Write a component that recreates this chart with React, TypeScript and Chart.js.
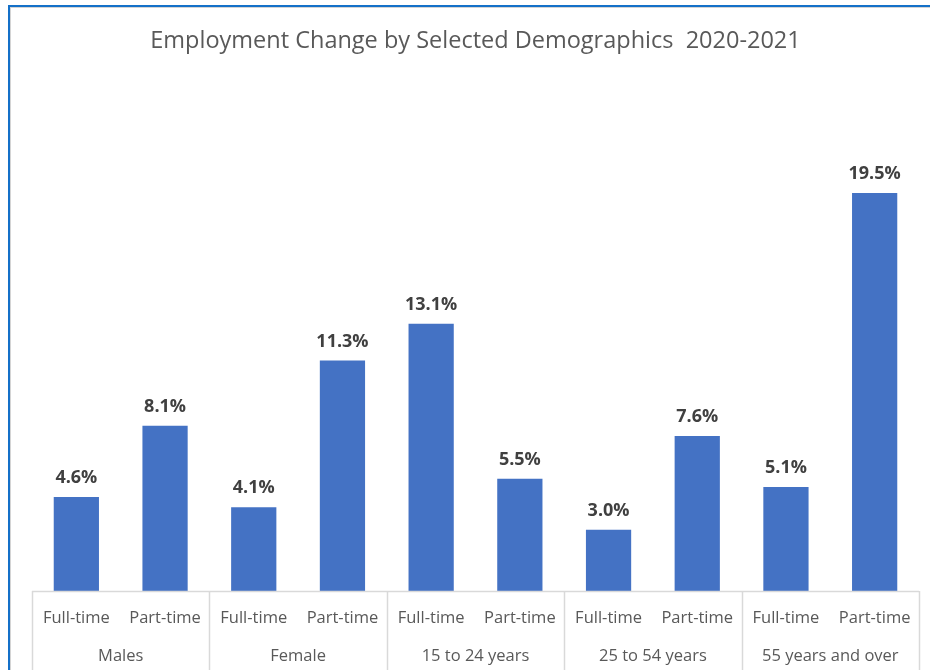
import React, { useEffect, useRef } from "react";
import { Chart, registerables } from "chart.js";

Chart.register(...registerables);

const TITLE = "Employment Change by Selected Demographics  2020-2021";
const groups = ["Males", "Female", "15 to 24 years", "25 to 54 years", "55 years and over"];
const types = ["Full-time", "Part-time", "Full-time", "Part-time", "Full-time", "Part-time", "Full-time", "Part-time", "Full-time", "Part-time"];
const values = [4.6, 8.1, 4.1, 11.3, 13.1, 5.5, 3.0, 7.6, 5.1, 19.5];

const FONT = "'Open Sans', 'Noto Sans', sans-serif";

const framePlugin = {
  id: "frame",
  beforeDraw(chart: any) {
    const ctx = chart.ctx;
    ctx.save();
    ctx.fillStyle = "#ffffff";
    ctx.fillRect(0, 0, chart.width, chart.height);
    ctx.fillStyle = "#d4d4d4";
    ctx.fillRect(10, 7, 1, chart.height - 7);
    ctx.fillRect(10, 7, chart.width - 10, 1);
    ctx.fillStyle = "#1470c8";
    ctx.fillRect(8, 5, 2, chart.height - 5);
    ctx.fillRect(8, 5, chart.width - 8, 2);
    ctx.restore();
  },
};

const separatorPlugin = {
  id: "separators",
  afterDraw(chart: any) {
    const ctx = chart.ctx;
    const xs = chart.scales.x;
    const n = groups.length;
    const step = (xs.right - xs.left) / n;
    ctx.save();
    ctx.strokeStyle = "#d9d9d9";
    ctx.lineWidth = 1.5;
    ctx.beginPath();
    ctx.moveTo(xs.left, chart.chartArea.bottom + 0.5);
    ctx.lineTo(xs.right, chart.chartArea.bottom + 0.5);
    for (let i = 0; i <= n; i++) {
      const x = Math.round(xs.left + i * step) + 0.5;
      ctx.moveTo(x, chart.chartArea.bottom);
      ctx.lineTo(x, chart.height);
    }
    ctx.stroke();
    ctx.restore();
  },
};

const valueLabelPlugin = {
  id: "valueLabels",
  afterDatasetsDraw(chart: any) {
    const ctx = chart.ctx;
    const meta = chart.getDatasetMeta(0);
    ctx.save();
    ctx.font = `bold 18px ${FONT}`;
    ctx.fillStyle = "#404040";
    ctx.textAlign = "center";
    ctx.textBaseline = "middle";
    meta.data.forEach((bar: any, i: number) => {
      ctx.fillText(values[i].toFixed(1) + "%", bar.x, bar.y - 19);
    });
    ctx.restore();
  },
};

export default function App() {
  const ref = useRef<HTMLCanvasElement>(null);
  useEffect(() => {
    if (!ref.current) return;
    const chart = new Chart(ref.current, {
      type: "bar",
      data: {
        labels: types,
        datasets: [
          {
            data: values,
            backgroundColor: "#4472c4",
            borderWidth: 0,
            barPercentage: 0.51,
            categoryPercentage: 1,
            xAxisID: "x",
            yAxisID: "y",
          },
        ],
      },
      options: {
        animation: false,
        responsive: false,
        events: [],
        layout: { padding: { left: 32, right: 11, top: 0, bottom: 0 } },
        plugins: {
          legend: { display: false },
          tooltip: { enabled: false },
          title: {
            display: true,
            text: TITLE,
            color: "#595959",
            font: { family: FONT, size: 23.5, weight: "normal" as any },
            padding: { top: 27, bottom: 86.8 },
          },
        },
        scales: {
          y: {
            display: false,
            min: 0,
            max: 22,
          },
          x: {
            type: "category",
            position: "bottom",
            weight: 0,
            grid: { display: false, drawTicks: false },
            border: { display: false },
            ticks: {
              color: "#595959",
              font: { family: FONT, size: 16.5 },
              padding: 17,
              maxRotation: 0,
              autoSkip: false,
            },
            afterFit: (s: any) => {
              s.height = 40;
            },
          },
          x2: {
            type: "category",
            position: "bottom",
            weight: 1,
            labels: groups,
            offset: true,
            grid: { display: false, drawTicks: false },
            border: { display: false },
            ticks: {
              color: "#595959",
              font: { family: FONT, size: 16.5 },
              padding: 15,
              maxRotation: 0,
              autoSkip: false,
            },
            afterFit: (s: any) => {
              s.height = 39;
            },
          },
        } as any,
      },
      plugins: [framePlugin, separatorPlugin, valueLabelPlugin],
    });
    return () => chart.destroy();
  }, []);
  return (
    <div style={{ position: "absolute", left: 0, top: 0, width: 930, height: 670 }}>
      <canvas ref={ref} width={930} height={670} style={{ display: "block" }} />
    </div>
  );
}
